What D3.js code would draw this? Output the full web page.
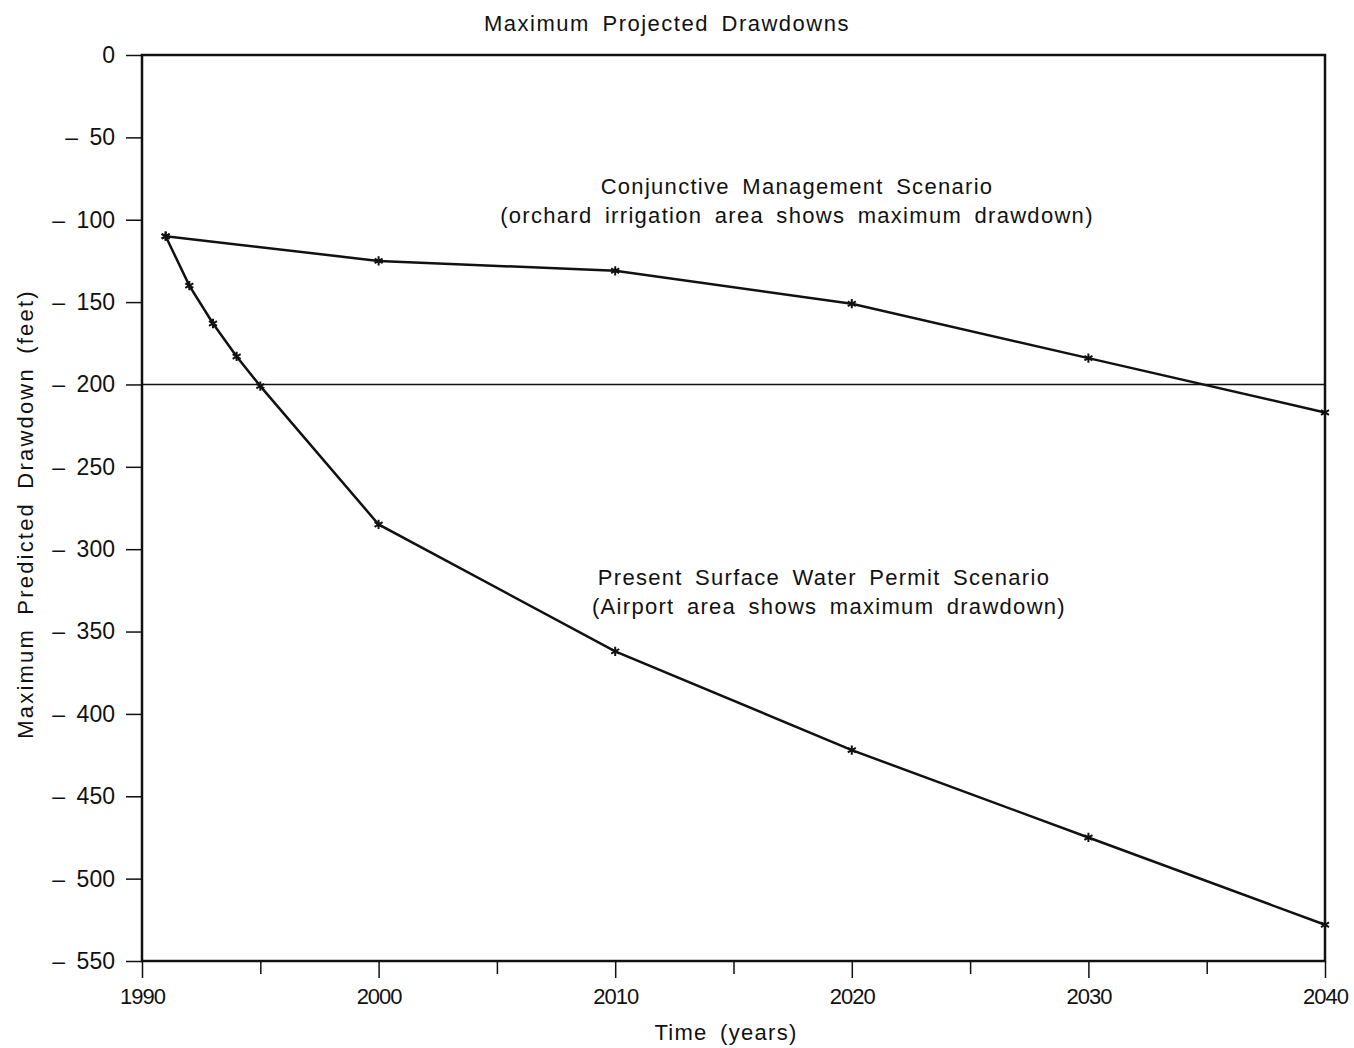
<!DOCTYPE html>
<html>
<head>
<meta charset="utf-8">
<script src="https://cdn.jsdelivr.net/npm/d3@7"></script>
<style>
  body { margin: 0; background: #fff; }
  text { font-family: "Liberation Sans", Arial, sans-serif; fill: #111; }
</style>
</head>
<body>
<div id="chart"></div>
<script>
// data
const conjYears = [1991, 2000, 2010, 2020, 2030, 2040];
const conjDrawdown = [-110, -125, -131, -151, -184, -217];

const permitYears = [1991, 1992, 1993, 1994, 1995, 2000, 2010, 2020, 2030, 2040];
const permitDrawdown = [-110, -140, -163, -183, -201, -285, -362, -422, -475, -528];

const yTicks = [0, -50, -100, -150, -200, -250, -300, -350, -400, -450, -500, -550];
const xMajor = [1990, 2000, 2010, 2020, 2030, 2040];
const xMinor = [1995, 2005, 2015, 2025, 2035];
const refLevel = -200;

const width = 1354, height = 1048;
const margin = { top: 55, right: 29, bottom: 87, left: 142 };
const FONT = '"Liberation Sans", Arial, sans-serif';

const svg = d3.select('#chart')
  .append('svg')
  .attr('width', width)
  .attr('height', height);

const x = d3.scaleLinear().domain([1990, 2040]).range([margin.left, width - margin.right]);
const y = d3.scaleLinear().domain([0, -550]).range([margin.top, height - margin.bottom]);

// Title
svg.append('text')
  .attr('x', 667).attr('y', 31)
  .attr('text-anchor', 'middle')
  .attr('font-size', 22)
  .attr('letter-spacing', 1.5)
  .attr('word-spacing', 5)
  .text('Maximum Projected Drawdowns');

// Y axis
const yAxis = svg.append('g')
  .attr('transform', `translate(${margin.left},0)`)
  .call(d3.axisLeft(y).tickValues(yTicks).tickSize(16).tickPadding(11)
    .tickFormat(d => d === 0 ? '0' : '\u2013\u2002' + Math.abs(d)));
yAxis.select('.domain').remove();
yAxis.selectAll('line').attr('stroke', '#111').attr('stroke-width', 1.5);
yAxis.selectAll('text').attr('font-size', 23).attr('font-family', FONT).attr('fill', '#111');

// X axis major
const xAxis = svg.append('g')
  .attr('transform', `translate(0,${y(-550)})`)
  .call(d3.axisBottom(x).tickValues(xMajor).tickSize(17).tickPadding(10).tickFormat(d3.format('d')));
xAxis.select('.domain').remove();
xAxis.selectAll('line').attr('stroke', '#111').attr('stroke-width', 1.5);
xAxis.selectAll('text').attr('font-size', 22).attr('letter-spacing', -1)
  .attr('font-family', FONT).attr('fill', '#111');

// X axis minor
const xMinorAxis = svg.append('g')
  .attr('transform', `translate(0,${y(-550)})`)
  .call(d3.axisBottom(x).tickValues(xMinor).tickSize(13).tickFormat(''));
xMinorAxis.select('.domain').remove();
xMinorAxis.selectAll('line').attr('stroke', '#111').attr('stroke-width', 1.5);

// Frame
svg.append('rect')
  .attr('x', x(1990)).attr('y', y(0))
  .attr('width', x(2040) - x(1990))
  .attr('height', y(-550) - y(0))
  .attr('fill', 'none')
  .attr('stroke', '#111')
  .attr('stroke-width', 2.5);

// Reference line at -200
svg.append('line')
  .attr('x1', x(1990)).attr('x2', x(2040))
  .attr('y1', y(refLevel)).attr('y2', y(refLevel))
  .attr('stroke', '#111')
  .attr('stroke-width', 1.6);

// Series
const line = d3.line().x(d => x(d[0])).y(d => y(d[1]));
const series = [
  d3.zip(conjYears, conjDrawdown),
  d3.zip(permitYears, permitDrawdown)
];
const star = d3.symbol().type(d3.symbolAsterisk).size(60);

series.forEach(pts => {
  svg.append('path')
    .datum(pts)
    .attr('d', line)
    .attr('fill', 'none')
    .attr('stroke', '#111')
    .attr('stroke-width', 2.5);
  svg.append('g')
    .selectAll('path')
    .data(pts)
    .join('path')
    .attr('transform', d => `translate(${x(d[0])},${y(d[1])})`)
    .attr('d', star)
    .attr('fill', 'none')
    .attr('stroke', '#111')
    .attr('stroke-width', 2);
});

// Annotations
const notes = [
  { t: 'Conjunctive Management Scenario', cx: 797, cy: 194 },
  { t: '(orchard irrigation area shows maximum drawdown)', cx: 797, cy: 223 },
  { t: 'Present Surface Water Permit Scenario', cx: 824, cy: 585 },
  { t: '(Airport area shows maximum drawdown)', cx: 829, cy: 614 }
];
svg.append('g').selectAll('text')
  .data(notes)
  .join('text')
  .attr('x', d => d.cx).attr('y', d => d.cy)
  .attr('text-anchor', 'middle')
  .attr('font-size', 22)
  .attr('letter-spacing', 1.3)
  .attr('word-spacing', 5)
  .text(d => d.t);

// Axis titles
svg.append('text')
  .attr('x', 726).attr('y', 1040)
  .attr('text-anchor', 'middle')
  .attr('font-size', 22)
  .attr('letter-spacing', 1.3)
  .attr('word-spacing', 5)
  .text('Time (years)');

svg.append('text')
  .attr('transform', 'translate(33,514) rotate(-90)')
  .attr('text-anchor', 'middle')
  .attr('font-size', 22)
  .attr('letter-spacing', 2.2)
  .attr('word-spacing', 5)
  .text('Maximum Predicted Drawdown (feet)');
</script>
</body>
</html>
